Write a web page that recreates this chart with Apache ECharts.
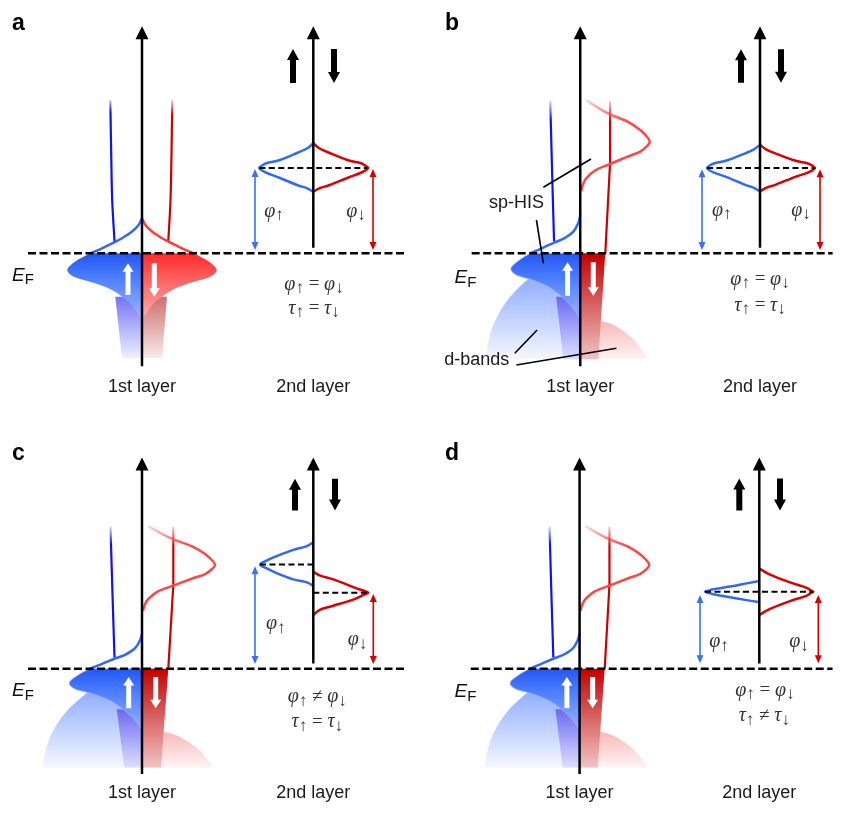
<!DOCTYPE html>
<html><head><meta charset="utf-8">
<script src="https://cdn.jsdelivr.net/npm/echarts@6/dist/echarts.min.js"></script>
<style>html,body{margin:0;padding:0;background:#fff;}#chart{width:845px;height:827px;}</style>
</head><body><div id="chart"></div>
<script>
// ================= DATA =================
// x = density of states (spin-up to the left, spin-down to the right), y = energy (E_F = 0)
const panelLetters = ['a', 'b', 'c', 'd'];
const layerNames = ['1st layer', '2nd layer'];
const fermiLabel = ['E', 'F'];
const phiLabels = ['φ↑', 'φ↓'];
const eqPhi = ['φ↑ = φ↓', 'φ↑ = φ↓', 'φ↑ ≠ φ↓', 'φ↑ = φ↓'];
const eqTau = ['τ↑ = τ↓', 'τ↑ = τ↓', 'τ↑ = τ↓', 'τ↑ ≠ τ↓'];
const annotationLabels = ['sp-HIS', 'd-bands'];

// panel a, 1st layer
const aUpThin = [[-3.17, 15.3], [-3.08, 10.0], [-2.98, 5.3], [-2.74, 1.12]];
const aDnThin = [[3.03, 15.3], [2.95, 10.0], [2.85, 5.3], [2.62, 1.12]];
const aUpSp = [[0, 3.5], [-0.34, 2.83], [-1.0, 2.17], [-2.0, 1.5], [-2.84, 1.06], [-4.0, 0.5], [-5.17, 0]];
const aDnSp = [[0, 3.5], [0.34, 2.83], [1.0, 2.17], [2.0, 1.5], [2.84, 1.06], [4.0, 0.5], [5.17, 0]];
const aUpFill = [[0, 0], [-5.17, 0], [-6.7, -0.84], [-7.47, -1.67], [-6.7, -2.4], [-4.67, -3.0], [-3.0, -3.67], [-2.0, -4.34], [-1.17, -5.0], [-0.67, -5.67], [-0.17, -6.34], [0, -6.47]];
const aDnFill = [[0, 0], [5.17, 0], [6.7, -0.84], [7.47, -1.67], [6.7, -2.4], [4.67, -3.0], [3.0, -3.67], [2.0, -4.34], [1.17, -5.0], [0.67, -5.67], [0.17, -6.34], [0, -6.47]];
const aUpNarrow = [[0, -4.34], [-2.67, -4.34], [-2.0, -10.5], [0, -10.5]];
const aDnNarrow = [[0, -4.34], [2.5, -4.34], [2.0, -10.5], [0, -10.5]];
const aWhite = [[-1.4, -4.17, -1.0], [1.23, -1.0, -4.34]];

// panels b, c, d, 1st layer (split sp-HIS with d-bands)
const sUpThin = [[-3.15, 15.25], [-2.95, 8.0], [-2.75, 1.2]];
const sUpSp = [[0, 3.8], [-0.2, 3.05], [-0.7, 2.2], [-1.7, 1.5], [-2.75, 1.07], [-4.05, 0.5], [-5.25, 0]];
const sUpFill = [[0, 0], [-5.25, 0], [-6.37, -0.67], [-7.27, -1.5], [-6.7, -2.17], [-5.03, -2.67], [-3.37, -3.34], [-2.37, -4.0], [-1.53, -4.67], [-0.87, -5.34], [-0.37, -6.0], [0, -6.67]];
const sUpDband = [[0, -0.55], [-2.28, -1.0], [-4.55, -2.0], [-5.98, -3.0], [-7.49, -4.5], [-8.53, -6.0], [-9.43, -8.0], [-9.96, -10.6], [0, -10.6]];
const sDnDband = [[0, -6.4], [3.06, -7.0], [4.83, -8.0], [5.95, -9.0], [7.1, -10.6], [0, -10.6]];
const sUpNarrow = [[0, -4.34], [-2.53, -4.34], [-1.77, -10.6], [0, -10.6]];
const sDnWedge = [[0, 0], [2.63, 0], [1.9, -10.6], [0, -10.6]];
const sDnThin = [[3.13, 15.25], [3.13, 9.0], [2.63, 0]];
const sDnLor = [[0.1, 6.2], [0.25, 6.8], [0.63, 7.5], [1.63, 8.33], [3.13, 8.93], [4.97, 9.67], [6.3, 10.17], [7.05, 10.75], [7.3, 11.15], [7.05, 11.6], [6.3, 12.33], [4.97, 13.17], [3.3, 13.83], [1.97, 14.5], [0.63, 15.33]];
const sWhite = [[-1.33, -4.25, -0.9], [1.37, -0.9, -4.25]];
const spLeaders = [[[-3.87, 6.6], [1.13, 9.43]], [[-4.6, 3.33], [-3.87, -1.0]]];
const dLeaders = [[[-6.87, -10.0], [-4.53, -7.67]], [[-6.7, -11.17], [3.8, -9.5]]];

// 2nd layer (per panel a, b, c, d)
const l2Up = [
  [[0, 11.03], [-0.6, 10.5], [-1.63, 10.03], [-3.33, 9.33], [-4.63, 9.03], [-5.15, 8.75], [-5.4, 8.53], [-5.15, 8.31], [-4.63, 8.03], [-3.33, 7.53], [-1.63, 6.83], [-0.6, 6.5], [0, 6.13]],
  [[0, 10.85], [-0.6, 10.4], [-1.6, 9.95], [-3.27, 9.3], [-4.55, 9.0], [-5.05, 8.75], [-5.3, 8.53], [-5.05, 8.31], [-4.55, 8.05], [-3.27, 7.6], [-1.6, 6.9], [-0.6, 6.55], [0, 6.17]],
  [[0, 13.6], [-0.7, 13.15], [-2.0, 12.77], [-3.67, 12.1], [-4.7, 11.6], [-5.1, 11.4], [-5.33, 11.2], [-5.1, 11.0], [-4.7, 10.8], [-3.67, 10.27], [-2.0, 9.6], [-0.7, 9.3], [0, 8.9]],
  [[0, 9.43], [-1.26, 9.17], [-2.93, 8.83], [-4.6, 8.53], [-5.1, 8.38], [-5.43, 8.27], [-5.1, 8.15], [-4.6, 8.0], [-2.93, 7.67], [-1.26, 7.37], [0, 7.17]]
];
const l2Dn = [
  [[0, 11.03], [0.6, 10.5], [1.63, 10.03], [3.4, 9.33], [4.7, 9.03], [5.22, 8.75], [5.47, 8.53], [5.22, 8.31], [4.7, 8.03], [3.4, 7.53], [1.63, 6.83], [0.6, 6.5], [0, 6.13]],
  [[0, 10.85], [0.6, 10.4], [1.65, 9.95], [3.4, 9.3], [4.72, 9.0], [5.25, 8.75], [5.5, 8.53], [5.25, 8.31], [4.72, 8.05], [3.4, 7.6], [1.65, 6.9], [0.6, 6.55], [0, 6.17]],
  [[0, 10.43], [0.7, 10.0], [2.0, 9.6], [4.0, 8.77], [4.95, 8.4], [5.5, 8.17], [4.95, 7.9], [4.0, 7.43], [2.0, 6.77], [0.7, 6.35], [0, 5.77]],
  [[0, 10.77], [1.07, 10.1], [3.07, 9.27], [4.57, 8.77], [5.1, 8.45], [5.4, 8.27], [5.1, 8.1], [4.57, 7.77], [3.07, 7.27], [1.07, 6.43], [0, 5.77]]
];
const l2Levels = [
  [[[-5.4, 8.53], [5.47, 8.53]]],
  [[[-5.3, 8.53], [5.5, 8.53]]],
  [[[-5.33, 11.2], [0, 11.2]], [[0, 8.17], [5.5, 8.17]]],
  [[[-5.43, 8.27], [5.4, 8.27]]]
];
const phiUp = [[-5.83, 8.43, 0.33], [-5.8, 8.4, 0.33], [-5.83, 11.0, 0.5], [-5.93, 7.93, 0.6]];
const phiDn = [[5.97, 8.43, 0.33], [6.0, 8.4, 0.33], [6.0, 8.03, 0.5], [5.9, 7.93, 0.6]];
const spinUp = [[-2.03, 17.03, 20.43], [-1.9, 17.06, 20.4], [-1.83, 17.0, 20.4], [-2.0, 17.0, 20.43]];
const spinDn = [[2.07, 20.43, 17.03], [2.1, 20.4, 17.06], [2.17, 20.4, 17.0], [2.07, 20.43, 17.0]];
const axis1 = [-11.3, 22.7];
const axis2 = [0.55, 22.7];
const fermiLine = [[-11.4, 0], [26.5, 0]];

// ================= LAYOUT =================
const origins = [[142, 253.3], [587, 253.3], [142, 686], [586, 686]];
const secondAxisPx = [313.3, 760, 313.3, 759.3];
const letterAt = [[-13.0, 22.96], [-14.2, 22.96], [-13.0, 23.07], [-14.1, 23.07]];
const efAt = [[-13.0, -2.2], [-13.2, -2.47], [-13.0, -2.4], [-13.1, -2.5]];
const phiAt = [[[-3.93, 4.2], [4.27, 4.2]], [[-3.83, 4.3], [4.1, 4.3]], [[-3.75, 4.85], [4.42, 3.1]], [[-4.03, 2.85], [3.97, 2.85]]];
const eqAt = [[[0.07, -3.1], [0.07, -5.5]], [[0, -2.6], [0, -5.2]], [[0.4, -3.0], [0.4, -5.74]], [[0.55, -2.33], [0.5, -5.07]]];
const layerLabelE = -13.38;

// ================= CHART =================
const chart = echarts.init(document.getElementById('chart'), null, { renderer: 'canvas', width: 845, height: 827 });
const LG = (stops) => new echarts.graphic.LinearGradient(0, 0, 0, 1, stops.map(s => ({ offset: s[0], color: s[1] })));

const grids = [], xAxes = [], yAxes = [];
origins.forEach((o, i) => {
  grids.push({ left: o[0] - 142, top: o[1] - 250, width: 420, height: 420 });
  xAxes.push({ type: 'value', gridIndex: 2 * i, min: -14.2, max: 27.8, show: false });
  yAxes.push({ type: 'value', gridIndex: 2 * i, min: -17, max: 25, show: false });
  grids.push({ left: secondAxisPx[i] - 80, top: o[1] - 250, width: 160, height: 420 });
  xAxes.push({ type: 'value', gridIndex: 2 * i + 1, min: -8, max: 8, show: false });
  yAxes.push({ type: 'value', gridIndex: 2 * i + 1, min: -17, max: 25, show: false });
});

const S = [];
function lineSeries(g, data, color, width, z, dash) {
  S.push({ type: 'line', xAxisIndex: g, yAxisIndex: g, data: data, symbol: 'none', showSymbol: false,
    smooth: false, silent: true, animation: false, clip: false, z: z,
    lineStyle: { color: color, width: width, type: dash || 'solid', cap: 'butt', join: 'round' } });
}
function cr(p) {
  let s = '';
  for (let i = 0; i < p.length - 1; i++) {
    const p0 = p[i - 1] || p[i], p1 = p[i], p2 = p[i + 1], p3 = p[i + 2] || p[i + 1];
    const c1 = [p1[0] + (p2[0] - p0[0]) / 6, p1[1] + (p2[1] - p0[1]) / 6];
    const c2 = [p2[0] - (p3[0] - p1[0]) / 6, p2[1] - (p3[1] - p1[1]) / 6];
    s += ' C' + c1[0] + ' ' + c1[1] + ' ' + c2[0] + ' ' + c2[1] + ' ' + p2[0] + ' ' + p2[1];
  }
  return s;
}
// smooth stroked curve through the data points (through the grid's own scales)
function curveSeries(g, pts, color, width, z, smooth) {
  S.push({ type: 'custom', xAxisIndex: g, yAxisIndex: g, silent: true, animation: false, z: z, data: [[0, 0]],
    renderItem: function (params, api) {
      const P = pts.map(d => api.coord(d));
      let d = 'M' + P[0][0] + ' ' + P[0][1];
      if (smooth) d += cr(P);
      else for (let k = 1; k < P.length; k++) d += ' L' + P[k][0] + ' ' + P[k][1];
      return { type: 'path', shape: { pathData: d },
        style: { fill: null, stroke: color, lineWidth: width, lineCap: 'butt', lineJoin: 'round' } };
    } });
}
// closed outline; points between sFrom..sTo are joined by a smooth curve, the rest straight
function fillSeries(g, pts, sFrom, sTo, stops, z, stroke) {
  S.push({ type: 'custom', xAxisIndex: g, yAxisIndex: g, silent: true, animation: false, z: z, data: [[0, 0]],
    renderItem: function (params, api) {
      const P = pts.map(d => api.coord(d));
      let d = 'M' + P[0][0] + ' ' + P[0][1];
      let i = 1;
      if (sFrom === 0 && sTo > 0) {
        d += cr(P.slice(0, sTo + 1));
        i = sTo + 1;
      }
      while (i < P.length) {
        if (i === sFrom + 1 && sTo > sFrom && sFrom > 0) {
          d += ' L' + P[sFrom][0] + ' ' + P[sFrom][1];
          d += cr(P.slice(sFrom, sTo + 1));
          i = sTo + 1;
        } else {
          d += ' L' + P[i][0] + ' ' + P[i][1];
          i++;
        }
      }
      d += ' Z';
      return { type: 'path', shape: { pathData: d },
        style: { fill: LG(stops), stroke: stroke || null, lineWidth: stroke ? 1 : 0 } };
    } });
}
function arrowPts(a, b, st) {
  const x = a[0], dir = b[1] > a[1] ? 1 : -1;
  const s = st.shaft / 2, h = st.headW / 2, L = st.headL;
  const tipBase = b[1] - dir * L;
  if (st.both) {
    const tailBase = a[1] + dir * L;
    return [[x, a[1]], [x + h, tailBase], [x + s, tailBase], [x + s, tipBase], [x + h, tipBase], [x, b[1]],
      [x - h, tipBase], [x - s, tipBase], [x - s, tailBase], [x - h, tailBase]];
  }
  return [[x - s, a[1]], [x + s, a[1]], [x + s, tipBase], [x + h, tipBase], [x, b[1]], [x - h, tipBase], [x - s, tipBase]];
}
function arrowSeries(g, items, st, z) {
  S.push({ type: 'custom', xAxisIndex: g, yAxisIndex: g, silent: true, animation: false, z: z, data: [[0, 0]],
    renderItem: function (params, api) {
      return { type: 'group', children: items.map(it => {
        const a = api.coord([it[0], it[1]]), b = api.coord([it[0], it[2]]);
        return { type: 'polygon', shape: { points: arrowPts(a, b, st) }, style: { fill: st.color } };
      }) };
    } });
}
function textSeries(g, items, z) {
  S.push({ type: 'custom', xAxisIndex: g, yAxisIndex: g, silent: true, animation: false, z: z, data: [[0, 0]],
    renderItem: function (params, api) {
      return { type: 'group', children: items.map(it => {
        const p = api.coord(it.at);
        return { type: 'text', x: p[0], y: p[1],
          style: Object.assign({ text: it.text, align: it.align || 'center', verticalAlign: 'middle' }, it.style) };
      }) };
    } });
}
function richEq(s) {
  let out = '', buf = '';
  const flush = () => { if (buf) { out += '{o|' + buf + '}'; buf = ''; } };
  for (const ch of s) {
    if (ch === 'φ' || ch === 'τ') { flush(); out += '{g|' + ch + '}'; }
    else if (ch === '↑' || ch === '↓') { flush(); out += '{s|' + ch + '}'; }
    else buf += ch;
  }
  flush();
  return out;
}
const SERIF = '"Liberation Serif", "DejaVu Serif", serif';
const SANS = '"Liberation Sans", Arial, sans-serif';
const eqStyle = { fill: '#333', rich: {
  g: { fontFamily: SERIF, fontStyle: 'italic', fontSize: 20, fill: '#333', lineHeight: 24 },
  s: { fontFamily: SERIF, fontSize: 17, fill: '#333', padding: [9, 0, 0, 0] },
  o: { fontFamily: SERIF, fontSize: 19, fill: '#333', lineHeight: 24 }
} };
const efStyle = { fill: '#111', rich: {
  e: { fontFamily: SANS, fontStyle: 'italic', fontSize: 19, fill: '#111' },
  f: { fontFamily: SANS, fontSize: 15, fill: '#111', padding: [10, 0, 0, 0] }
} };
const labelStyle = { fill: '#1a1a1a', fontFamily: SANS, fontSize: 18 };
const letterStyle = { fill: '#000', fontFamily: SANS, fontSize: 23, fontWeight: 'bold' };

const BLUE_LINE = '#3068f8', RED_LINE = '#ff3a3a';
const blueFillStops = [[0, '#2356f2'], [0.35, '#4a7bff'], [1, '#9ab6ff']];
const redFillStops = [[0, '#ff2a2a'], [0.35, '#ff5a5a'], [1, '#ffabab']];

for (let i = 0; i < 4; i++) {
  const g1 = 2 * i, g2 = 2 * i + 1;
  // ---- 1st layer ----
  if (i === 0) {
    fillSeries(g1, aUpNarrow, 0, 0, [[0, '#7474f4'], [1, '#f0f0ff']], 2);
    fillSeries(g1, aDnNarrow, 0, 0, [[0, '#cc7070'], [1, '#faeaea']], 2);
    fillSeries(g1, aUpFill, 1, aUpFill.length - 1, blueFillStops, 3);
    fillSeries(g1, aDnFill, 1, aDnFill.length - 1, redFillStops, 3);
    curveSeries(g1, aUpThin, LG([[0, 'rgba(16,16,240,0.1)'], [0.1, '#1010f0'], [1, '#1010f0']]), 2.2, 4, true);
    curveSeries(g1, aDnThin, LG([[0, 'rgba(200,0,0,0.1)'], [0.12, '#c80000'], [1, '#c80000']]), 2.2, 4, true);
    curveSeries(g1, aUpSp, BLUE_LINE, 2.5, 4, true);
    curveSeries(g1, aDnSp, RED_LINE, 2.5, 4, true);
    arrowSeries(g1, aWhite, { shaft: 5, headW: 11, headL: 8.5, color: '#ffffff' }, 6);
  } else {
    fillSeries(g1, sUpDband, 0, sUpDband.length - 2, [[0, '#7c9cff'], [0.4, '#aac0ff'], [1, '#f6f8ff']], 1);
    fillSeries(g1, sDnDband, 0, sDnDband.length - 2, [[0, '#f6b4b4'], [1, '#fff3f3']], 1);
    fillSeries(g1, sUpNarrow, 0, 0, [[0, '#6a6af0'], [1, '#dedeff']], 2);
    fillSeries(g1, sDnWedge, 0, 0, [[0, '#c40000'], [0.45, '#d65a5a'], [1, 'rgba(240,190,190,0.9)']], 2);
    fillSeries(g1, sUpFill, 1, sUpFill.length - 1, blueFillStops, 3, 'rgba(150,180,255,0.9)');
    curveSeries(g1, sUpThin, LG([[0, 'rgba(16,16,240,0.05)'], [0.15, '#1010f0'], [1, '#1010f0']]), 2.2, 4, true);
    curveSeries(g1, sUpSp, BLUE_LINE, 2.5, 4, true);
    curveSeries(g1, sDnThin, LG([[0, 'rgba(204,0,0,0.08)'], [0.15, '#cc0000'], [1, '#cc0000']]), 2.2, 4, false);
    curveSeries(g1, sDnLor, LG([[0, 'rgba(255,70,70,0.12)'], [0.25, '#ff4545'], [1, '#ff4545']]), 2.5, 4, true);
    arrowSeries(g1, sWhite, { shaft: 5, headW: 11, headL: 8.5, color: '#ffffff' }, 6);
  }
  arrowSeries(g1, [[0, axis1[0], axis1[1]]], { shaft: 2.5, headW: 13, headL: 13, color: '#000' }, 5);
  lineSeries(g1, fermiLine, '#000', 2.6, 7, [8, 3.5]);
  // ---- 2nd layer ----
  curveSeries(g2, l2Up[i], BLUE_LINE, 2.5, 4, true);
  curveSeries(g2, l2Dn[i], '#dd0000', 2.5, 4, true);
  l2Levels[i].forEach(seg => lineSeries(g2, seg, '#000', 2, 7, [6, 3.5]));
  arrowSeries(g2, [[0, axis2[0], axis2[1]]], { shaft: 2.5, headW: 13, headL: 13, color: '#000' }, 5);
  arrowSeries(g2, [spinUp[i], spinDn[i]], { shaft: 6, headW: 12, headL: 11, color: '#000' }, 5);
  arrowSeries(g2, [phiUp[i]], { shaft: 1.6, headW: 7, headL: 8, both: true, color: '#3a6ff7' }, 5);
  arrowSeries(g2, [phiDn[i]], { shaft: 1.6, headW: 7, headL: 8, both: true, color: '#d40000' }, 5);
  // ---- texts ----
  textSeries(g1, [
    { at: letterAt[i], text: panelLetters[i], align: 'left', style: letterStyle },
    { at: efAt[i], text: '{e|' + fermiLabel[0] + '}{f|' + fermiLabel[1] + '}', align: 'left', style: efStyle },
    { at: [0, layerLabelE], text: layerNames[0], style: labelStyle }
  ], 8);
  textSeries(g2, [
    { at: [0, layerLabelE], text: layerNames[1], style: labelStyle },
    { at: phiAt[i][0], text: richEq(phiLabels[0]), style: eqStyle },
    { at: phiAt[i][1], text: richEq(phiLabels[1]), style: eqStyle },
    { at: eqAt[i][0], text: richEq(eqPhi[i]), style: eqStyle },
    { at: eqAt[i][1], text: richEq(eqTau[i]), style: eqStyle }
  ], 8);
  if (i === 1) {
    spLeaders.concat(dLeaders).forEach(seg => lineSeries(g1, seg, '#000', 1.6, 8));
    textSeries(g1, [
      { at: [-6.7, 5.0], text: annotationLabels[0], style: labelStyle },
      { at: [-10.87, -10.67], text: annotationLabels[1], style: labelStyle }
    ], 8);
  }
}

chart.setOption({ animation: false, backgroundColor: '#ffffff', grid: grids, xAxis: xAxes, yAxis: yAxes, series: S });
</script></body></html>
